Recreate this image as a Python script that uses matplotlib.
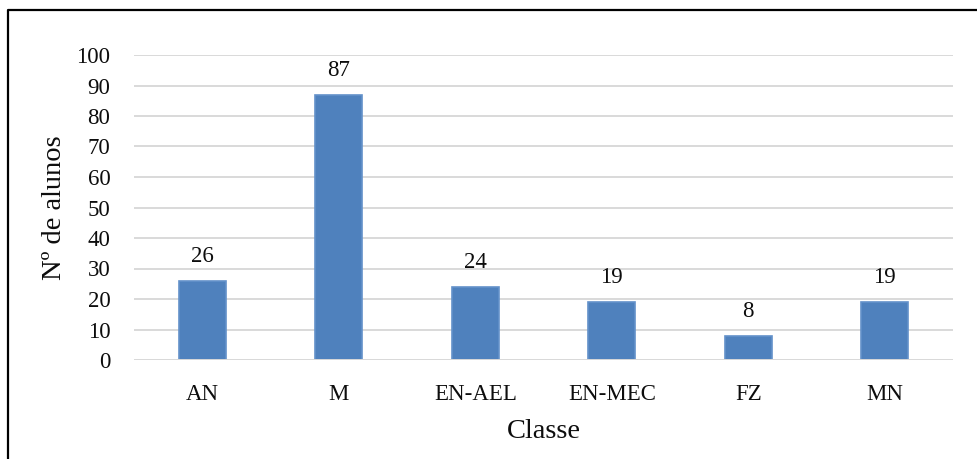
import matplotlib.pyplot as plt
import matplotlib.lines as lines
import numpy as np

# Chart data
classes = ['AN', 'M', 'EN-AEL', 'EN-MEC', 'FZ', 'MN']
n_students = [26, 87, 24, 19, 8, 19]
y_ticks = np.arange(0, 101, 10)

plt.rcParams['font.family'] = ['Liberation Serif', 'DejaVu Serif']

fig = plt.figure(figsize=(9.78, 4.59), dpi=100)
ax = fig.add_axes([134 / 978, 1 - 360 / 459, (953 - 134) / 978, (360 - 55) / 459])

x = np.arange(len(classes))
bars = ax.bar(x, n_students, width=0.345, color='#4F81BD', edgecolor='#6391CA',
              linewidth=1.2, zorder=2)

for rect, val in zip(bars, n_students):
    ax.annotate(str(val), (rect.get_x() + rect.get_width() / 2, val),
                xytext=(0, 10), textcoords='offset points', ha='center', va='bottom',
                fontsize=16.5, color='#0D0D0D')

ax.set_xlim(-0.5, len(classes) - 0.5)
ax.set_ylim(0, 100)
ax.set_yticks(y_ticks)
ax.set_xticks(x)
ax.set_xticklabels(classes)
ax.tick_params(axis='both', length=0, labelsize=16.5, colors='#0D0D0D')
ax.tick_params(axis='x', pad=17)
ax.tick_params(axis='y', pad=17)

ax.grid(axis='y', color='#D9D9D9', linewidth=1.4, zorder=1)
ax.axhline(0, color='#D9D9D9', linewidth=1.4, zorder=3)
for s in ax.spines.values():
    s.set_visible(False)

ax.set_xlabel('Classe', fontsize=20.5, labelpad=10, color='#0D0D0D')
ax.set_ylabel('Nº de alunos', fontsize=20.5, labelpad=7, color='#0D0D0D')

# outer frame (left and top only are visible)
fig.add_artist(lines.Line2D([8 / 978, 8 / 978, 1], [0, 1 - 10 / 459, 1 - 10 / 459],
                            color='black', linewidth=1.6, transform=fig.transFigure))

fig.savefig('out.png', dpi=100)
